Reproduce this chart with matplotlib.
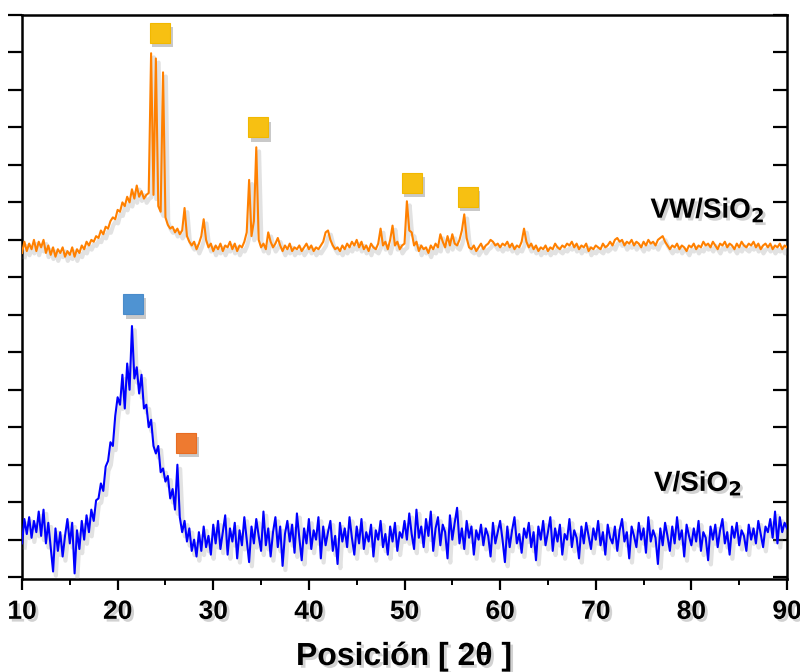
import numpy as np
import matplotlib
matplotlib.use("Agg")
import matplotlib.pyplot as plt
import matplotlib.patheffects as pe
from matplotlib import font_manager

# -------------------------
# Data (2theta grid, 0.25 deg step; intensities in tick units, offset traces)
# -------------------------
two_theta = np.arange(10.0, 90.0001, 0.25)

v_sio2 = [
    0.9, 1.55, 1.15, 1.6, 1.05, 1.5, 1.2, 1.75,
    1.1, 1.8, 0.9, 1.45, 0.8, 0.15, 1.3, 0.7,
    1.2, 0.55, 1.1, 1.55, 0.9, 1.45, 0.1, 1.25,
    0.75, 1.5, 1.0, 1.65, 1.2, 1.8, 1.5, 2.05,
    2.1, 2.5, 2.3, 2.95, 3.1, 3.6, 3.5, 4.3,
    4.8, 4.6, 5.4, 4.5, 5.7, 5.0, 6.7, 5.3,
    5.6, 4.9, 5.4, 4.5, 4.6, 4.0, 4.2, 3.5,
    3.3, 3.5, 2.8, 2.9, 2.55, 2.7, 2.1, 2.35,
    1.8, 3.0, 1.6, 1.2, 1.5, 0.95, 1.3, 0.7,
    1.0, 0.55, 1.2, 0.7, 1.35, 0.8, 1.1, 0.6,
    1.4, 0.9, 1.5, 0.75, 1.2, 1.65, 0.6, 1.3,
    0.95, 1.45, 0.5, 1.25, 0.85, 1.6, 1.0, 0.4,
    1.35, 0.9, 1.55, 1.1, 0.7, 1.75, 0.85, 1.3,
    0.55, 1.2, 1.6, 0.8, 1.35, 0.3, 1.15, 1.5,
    0.95, 1.4, 0.65, 1.7, 1.05, 0.45, 1.3, 0.9,
    1.55, 0.75, 1.25, 1.0, 1.6, 0.5, 1.35, 0.85,
    1.2, 1.5, 0.7, 1.1, 0.35, 1.45, 0.95, 1.3,
    0.8, 1.6, 1.05, 0.6, 1.35, 0.9, 1.55, 0.75,
    1.2, 0.95, 1.4, 0.55, 1.25, 1.0, 1.5, 0.8,
    1.15, 0.6, 1.35, 0.95, 1.45, 0.7, 1.2, 1.05,
    1.5, 1.0, 1.7, 1.15, 0.75, 1.8, 1.05, 1.35,
    0.8, 1.55, 1.1, 1.75, 0.7, 1.3, 1.6, 0.85,
    1.4, 1.2, 0.5, 1.65, 1.0, 1.45, 1.85, 0.9,
    1.3, 0.75, 1.5, 1.05, 1.35, 0.6, 1.25, 1.0,
    1.4, 0.85, 1.3, 1.1, 0.55, 1.45, 0.9, 1.2,
    1.5, 1.0, 0.4, 1.35, 0.8, 1.25, 1.6, 0.9,
    1.15, 0.65, 1.3, 1.05, 1.45, 0.8, 1.2, 0.45,
    1.35, 1.0, 1.5, 0.85, 1.2, 1.6, 0.7, 1.3,
    0.95, 1.4, 0.6, 1.15, 1.0, 1.55, 0.8, 1.25,
    1.05, 0.5, 1.35, 0.9, 1.45, 1.1, 0.75, 1.3,
    1.0, 1.5, 0.85, 1.2, 0.6, 1.4, 1.05, 0.9,
    1.35, 0.7, 1.25, 1.55, 0.95, 1.2, 0.5, 1.35,
    1.1, 0.8, 1.45, 1.0, 1.3, 0.65, 1.6, 0.95,
    1.25, 1.05, 0.35, 1.3, 0.85, 1.45, 1.1, 0.7,
    1.35, 0.9, 1.6, 1.0, 1.25, 0.55, 1.4, 1.1,
    0.85, 1.3, 0.95, 1.5, 0.7, 1.2, 1.05, 0.45,
    1.35, 1.0, 1.4, 0.8, 1.25, 1.55, 0.9, 1.2,
    0.6, 1.35, 1.05, 1.45, 0.85, 1.25, 1.1, 0.7,
    1.4, 1.0, 1.3, 0.9, 1.5, 1.15, 0.8, 1.35,
    1.2, 1.55, 1.05, 1.75, 0.9, 1.6, 1.2, 1.45,
    1.3,
]

vw_sio2 = [
    8.65, 8.95, 8.7, 8.9, 8.75, 9.0, 8.7, 8.95,
    8.8, 9.0, 8.65, 8.85, 8.6, 8.8, 8.55, 8.75,
    8.65, 8.8, 8.55, 8.7, 8.6, 8.8, 8.55, 8.75,
    8.65, 8.85, 8.75, 8.95, 8.85, 9.0, 8.95, 9.1,
    9.05, 9.25, 9.15, 9.35, 9.3, 9.5, 9.6, 9.55,
    9.8, 9.75, 10.0, 9.9, 10.15, 10.0, 10.35, 10.1,
    10.45, 10.15, 10.3, 10.1, 10.2, 10.25, 13.98, 10.2,
    13.84, 9.9, 9.75, 13.47, 9.6, 9.4, 9.3, 9.35,
    9.2, 9.3, 9.15, 9.25, 9.85, 9.1, 8.95, 8.85,
    8.95, 8.75, 8.9, 9.1, 9.55, 9.0, 8.8, 8.9,
    8.7, 8.85, 8.75, 8.9, 8.7, 8.85, 8.8, 8.95,
    8.75, 8.9, 8.7, 8.85, 8.8, 8.95, 9.2, 10.6,
    9.1, 9.5, 11.47, 9.0, 8.8, 8.9, 8.75, 9.2,
    8.95, 8.8, 8.9, 9.05, 8.85, 8.7, 8.85, 8.75,
    8.9, 8.7, 8.8, 8.75, 8.85, 8.7, 8.8, 8.9,
    8.75, 8.85, 8.7, 8.8, 8.75, 8.85, 8.95, 9.2,
    9.25, 9.0, 8.85, 8.75, 8.8, 8.7, 8.85, 8.75,
    8.9, 8.8, 8.95, 8.85, 9.0, 8.8, 8.95, 8.75,
    8.85, 8.7, 8.9, 8.8, 8.75, 8.9, 9.3, 8.85,
    8.95, 8.75, 9.0, 9.38, 8.85, 8.95, 8.75, 8.85,
    8.9, 10.03, 9.25, 9.2, 8.85, 8.95, 8.7, 8.85,
    8.75, 8.8, 8.65, 8.85, 8.75, 8.9, 8.8, 9.15,
    8.95, 8.8, 9.1, 8.85, 9.15, 8.9, 8.85, 9.0,
    9.25, 9.68, 9.05, 8.8, 8.75, 8.85, 8.7, 8.8,
    8.9, 8.75, 8.85, 8.9, 9.0, 8.95, 8.85, 8.9,
    8.8, 8.9, 8.85, 8.95, 8.8, 8.9, 8.75, 8.85,
    8.8, 8.95, 9.3, 8.95, 8.8, 8.9, 8.75, 8.85,
    8.7, 8.8, 8.75, 8.85, 8.7, 8.8, 8.75, 8.9,
    8.8, 8.75, 8.85, 8.8, 8.9, 8.85, 8.95, 8.8,
    8.9, 8.75, 8.85, 8.8, 8.9, 8.7, 8.8, 8.75,
    8.85, 8.8, 8.75, 8.9, 8.8, 8.85, 8.95, 8.85,
    9.0, 9.05, 8.95, 9.0, 8.85, 8.95, 8.9, 9.0,
    8.85, 8.95, 8.9, 8.8, 8.95, 8.85, 9.0, 8.9,
    8.95, 8.85, 9.0, 9.05, 9.1, 8.95, 8.85, 8.75,
    8.85, 8.8, 8.9, 8.75, 8.85, 8.8, 8.7, 8.85,
    8.8, 8.9, 8.75, 8.85, 8.8, 8.95, 8.85, 8.9,
    8.8, 8.95, 8.85, 8.75, 8.9, 8.85, 8.95, 8.8,
    8.9, 8.85, 8.75, 8.9, 8.8, 8.95, 8.85, 8.8,
    8.9, 8.85, 8.95, 8.8, 8.9, 8.75, 8.85, 8.9,
    8.8, 8.9, 8.75, 8.85, 8.8, 8.9, 8.75, 8.85,
    8.8,
]

# peak markers
yellow_x = [24.4, 34.7, 50.75, 56.6]
yellow_y = [14.53, 12.0, 10.52, 10.15]
blue_mark_x = [21.6]
blue_mark_y = [7.28]
orange_mark_x = [27.15]
orange_mark_y = [3.58]

x_ticks = [10, 20, 30, 40, 50, 60, 70, 80, 90]

# -------------------------
# Fonts
# -------------------------
installed = {f.name for f in font_manager.fontManager.ttflist}
narrow = "Liberation Sans Narrow" if "Liberation Sans Narrow" in installed else "Liberation Sans"
plt.rcParams["font.family"] = ["Liberation Sans", "DejaVu Sans"]

txt_shadow = [pe.SimplePatchShadow(offset=(2, -2), shadow_rgbFace="0.5", alpha=0.35), pe.Normal()]
line_shadow = [pe.SimpleLineShadow(offset=(2, -3), shadow_color="0.55", alpha=0.25, linewidth=3), pe.Normal()]

# -------------------------
# Figure
# -------------------------
fig = plt.figure(figsize=(8.0, 6.72), dpi=100)
ax = fig.add_axes([22 / 800, 1 - 579 / 672, 765 / 800, 564 / 672])

ax.plot(two_theta, vw_sio2, color="#FF8000", lw=1.5, path_effects=line_shadow, zorder=3)
ax.plot(two_theta, v_sio2, color="#0000FF", lw=1.5, path_effects=line_shadow, zorder=3)

mk_shadow = [pe.SimplePatchShadow(offset=(2, -3), shadow_rgbFace="0.4", alpha=0.35), pe.Normal()]
ax.plot(yellow_x, yellow_y, ls="none", marker="s", ms=14.5, mfc="#F7C012", mec="#F2B800",
        mew=0.8, path_effects=mk_shadow, zorder=4)
ax.plot(blue_mark_x, blue_mark_y, ls="none", marker="s", ms=14.5, mfc="#4F93D2", mec="#4A8CCB",
        mew=0.8, path_effects=mk_shadow, zorder=4)
ax.plot(orange_mark_x, orange_mark_y, ls="none", marker="s", ms=14.5, mfc="#EE7A30", mec="#E86C22",
        mew=0.8, path_effects=mk_shadow, zorder=4)

ax.text(81.7, 9.79, "VW/SiO$_\\mathbf{2}$", fontsize=20, fontweight="bold", ha="center", va="center",
        path_effects=txt_shadow)
ax.text(80.7, 2.5, "V/SiO$_\\mathbf{2}$", fontsize=20, fontweight="bold", ha="center", va="center",
        path_effects=txt_shadow)

ax.set_xlim(10, 90)
ax.set_ylim(-0.05, 15.0)
ax.set_xticks(x_ticks)
ax.set_xticks(np.arange(15, 90, 10), minor=True)
ax.set_yticks(np.arange(0, 16, 1))
ax.tick_params(axis="y", which="major", left=True, right=True, labelleft=False,
               direction="out", length=10, width=1.6)
ax.tick_params(axis="x", which="major", direction="out", length=8, width=1.6, pad=7)
ax.tick_params(axis="x", which="minor", direction="out", length=4, width=1.4)

# right ticks point inward
for t in ax.yaxis.get_major_ticks():
    t.tick2line.set_marker(matplotlib.lines.TICKLEFT)

for lab in ax.get_xticklabels():
    lab.set_fontfamily(narrow)
    lab.set_fontweight("bold")
    lab.set_fontsize(19)
    lab.set_path_effects(txt_shadow)

for s in ax.spines.values():
    s.set_linewidth(1.8)

fig.text(404 / 800, 1 - 657 / 672, "Posición [ 2θ ]", fontsize=23, fontweight="bold",
         family=[narrow, "DejaVu Sans"], ha="center", va="center", path_effects=txt_shadow)

plt.savefig("out.png", dpi=100)
plt.close()
